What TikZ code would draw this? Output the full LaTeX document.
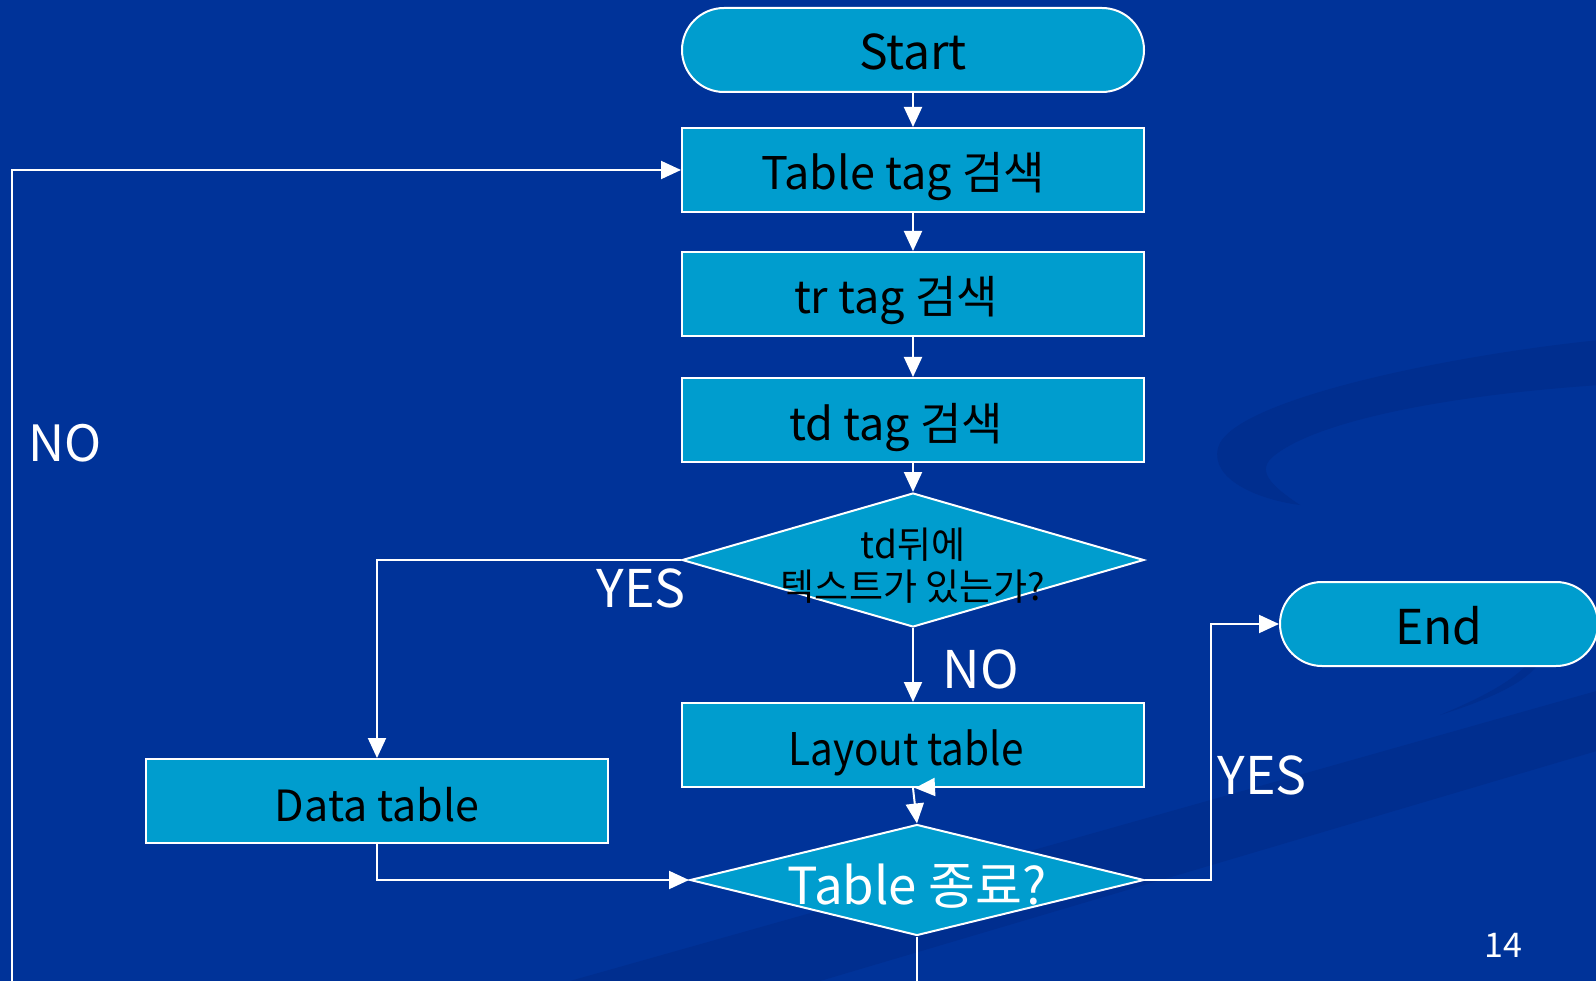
\documentclass[tikz,border=0pt]{standalone}
\usepackage{fontspec}
\setmainfont{Noto Sans CJK KR}
\newfontfamily\condfont[FakeStretch=0.9]{Noto Sans CJK KR}
\usetikzlibrary{shapes.geometric,arrows.meta}
\definecolor{bgblue}{RGB}{0,51,153}
\definecolor{swoosh}{RGB}{0,46,143}
\definecolor{boxblue}{RGB}{0,157,206}
\tikzset{
  flowbox/.style={draw=white, line width=2pt, fill=boxblue, minimum width=462pt, minimum height=84pt, inner sep=0pt, text=black, text height=40pt, text depth=0pt, font=\fontsize{45}{54}\selectfont},
  termbox/.style={flowbox, rounded corners=42pt},
  decbox/.style={draw=white, line width=2pt, fill=boxblue, shape=diamond, inner sep=0pt},
  conn/.style={draw=white, line width=2pt, -{Triangle[length=20pt,width=18pt]}},
  lbl/.style={text=white, font=\fontsize{52}{58}\selectfont, inner sep=0pt},
}
\begin{document}
\begin{tikzpicture}[x=1pt,y=-1pt]
\useasboundingbox (0,0) rectangle (1596,981);
\clip (0,0) rectangle (1596,981);
\fill[bgblue] (0,0) rectangle (1596,981);
% background swooshes
\fill[swoosh] (1600,340) .. controls (1450,355) and (1230,400) .. (1218,448)
  .. controls (1210,480) and (1260,500) .. (1300,505)
  .. controls (1270,485) and (1255,470) .. (1275,455)
  .. controls (1320,420) and (1450,395) .. (1600,385) -- cycle;
\fill[swoosh] (1600,690) -- (1600,750) -- (820,981) -- (570,981) -- cycle;
\fill[swoosh] (1440,715) .. controls (1520,690) and (1550,665) .. (1540,645)
  .. controls (1530,670) and (1500,690) .. (1440,715) -- cycle;

% nodes
\node[termbox, font=\fontsize{48}{56}\selectfont] (start) at (913,50) {Start};
\node[flowbox] (table) at (913,170) {Table tag 검색\hspace*{20pt}};
\node[flowbox] (tr) at (913,294) {tr tag 검색\hspace*{34pt}};
\node[flowbox] (td) at (913,420) {td tag 검색\hspace*{34pt}};
\node[decbox, minimum width=462pt, minimum height=134pt] (d1) at (913,560) {};
\node[align=center, text=black, inner sep=0pt, font=\fontsize{37}{42}\selectfont] (d1t) at (913,566) {td뒤에\\텍스트가 있는가?};
\node[flowbox, font=\condfont\fontsize{45}{54}\selectfont] (layout) at (913,745) {Layout table\hspace*{14pt}};
\node[flowbox, font=\fontsize{43}{50}\selectfont] (data) at (377,801) {Data table};
\node[decbox, minimum width=454pt, minimum height=111pt] (d2) at (917,880) {};
\node[text=white, inner sep=0pt, font=\fontsize{51}{56}\selectfont] (d2t) at (917,886) {Table 종료?};
\node[termbox, minimum width=318pt, font=\fontsize{48}{56}\selectfont] (stop) at (1439,624) {End};

% labels
\node[lbl] (yes1) at (641,588) {YES};
\node[lbl] (no1) at (981,669) {NO};
\node[lbl] (yes2) at (1262,775) {YES};
\node[lbl, font=\fontsize{50}{56}\selectfont] (no2) at (65,443) {NO};
\node[text=white, inner sep=0pt, font=\fontsize{34}{40}\selectfont] (pg) at (1503,945) {14};

% connectors
\draw[conn] (start) -- (table);
\draw[conn] (table) -- (tr);
\draw[conn] (tr) -- (td);
\draw[conn] (td) -- (d1);
\draw[conn] (d1.west) -| (data.north);
\draw[conn] (d1.south) -- (layout.north);
\draw[conn] (layout.south) -- (d2.north);
\coordinate (stub) at (935,787);
\draw[conn] (stub) -- ([xshift=2pt]layout.south);
\draw[conn] (data.south) |- (d2.west);
\coordinate (yesturn) at (1211,880);
\draw[conn] (d2.east) -- (yesturn) |- (stop.west);
\coordinate (loopbottom) at (917,1010);
\coordinate (loopcorner) at (12,1010);
\coordinate (looptop) at (12,170);
\draw[conn] (d2.south) -- (loopbottom) -- (loopcorner) -- (looptop) -- (table.west);
\end{tikzpicture}
\end{document}
